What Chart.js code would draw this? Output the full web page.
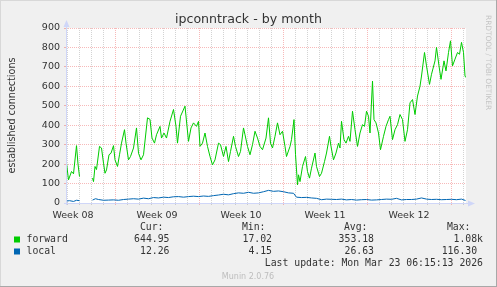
<!DOCTYPE html>
<html>
<head>
<meta charset="utf-8">
<script src="https://cdn.jsdelivr.net/npm/chart.js@4.4.1/dist/chart.umd.min.js"></script>
<style>
  html, body { margin: 0; padding: 0; background: #f0f0f0; }
  canvas { display: block; }
</style>
</head>
<body>
<canvas id="myChart" width="497" height="287"></canvas>
<script>
// hours counted from the start of week 08 (Monday 00:00)
var fwdHours = [71, 75, 81, 85, 91, 94, 97, 110, 123, 125,
  128, 131, 137, 141, 145, 148, 151, 156, 160, 165,
  168, 173, 177, 181, 187, 190, 195, 199, 205, 211,
  215, 220, 225, 233, 238, 242, 247, 251, 258, 261,
  266, 271, 278, 285, 290, 293, 299, 308, 315, 320,
  325, 331, 335, 338, 343, 348, 353, 358, 363, 368,
  375, 379, 385, 390, 395, 399, 405, 409, 415, 419,
  425, 428, 433, 438, 443, 448, 453, 458, 463, 470,
  475, 479, 483, 488, 493, 498, 503, 508, 511, 518,
  521, 526, 529, 533, 535, 538, 543, 549, 553, 557,
  561, 568, 571, 577, 581, 587, 591, 597, 600, 605,
  610, 615, 618, 621, 626, 630, 635, 638, 643, 648,
  653, 658, 663, 667, 671, 675, 678, 683, 686, 690,
  695, 699, 705, 710, 715, 718, 723, 728, 733, 738,
  743, 748, 753, 758, 763, 768, 773, 778, 781, 787,
  791, 797, 801, 808, 811, 816, 820, 826, 830, 835,
  839, 843, 848, 853, 857, 861, 865, 868, 870];
var fwdValues = [205, 119, 162, 150, 295, 200, 136, null, 128, 110,
  188, 172, 291, 283, 205, 153, 170, 248, 256, 295,
  222, 188, 248, 308, 377, 308, 222, 239, 283, 386,
  256, 222, 248, 438, 430, 334, 308, 351, 394, 334,
  360, 334, 420, 481, 394, 308, 446, 498, 317, 386,
  412, 394, 420, 291, 308, 360, 291, 239, 196, 222,
  308, 300, 239, 291, 213, 265, 343, 291, 239, 265,
  386, 351, 291, 248, 300, 369, 334, 291, 274, 334,
  438, 308, 283, 343, 412, 351, 369, 291, 239, 291,
  326, 429, 250, 93, 145, 110, 188, 239, 162, 128,
  179, 257, 188, 136, 153, 213, 257, 343, 291, 222,
  257, 308, 283, 420, 326, 308, 343, 317, 472, 377,
  291, 360, 403, 394, 472, 446, 360, 627, 429, 412,
  360, 274, 343, 394, 429, 446, 326, 377, 403, 455,
  429, 317, 377, 515, 532, 455, 550, 601, 653, 774,
  705, 610, 662, 731, 800, 705, 636, 731, 679, 774,
  834, 705, 740, 774, 765, 826, 774, 653, 645];

var localHours = [71, 77, 85, 91, 97, 110, 123, 129, 135, 145,
  155, 165, 175, 185, 195, 205, 215, 225, 235, 245,
  255, 265, 275, 285, 295, 305, 315, 325, 335, 345,
  355, 365, 375, 385, 395, 405, 415, 425, 435, 445,
  455, 465, 475, 485, 495, 505, 515, 525, 531, 541,
  551, 561, 571, 581, 591, 601, 611, 621, 631, 641,
  651, 661, 671, 681, 691, 701, 711, 721, 731, 741,
  751, 761, 771, 781, 791, 801, 811, 821, 831, 841,
  851, 861, 869];
var localValues = [10, 12, 8, 14, 12, null, 15, 22, 18, 14,
  15, 16, 14, 18, 20, 22, 20, 25, 22, 28,
  26, 30, 28, 32, 33, 30, 33, 35, 33, 36,
  34, 38, 41, 45, 42, 48, 52, 50, 55, 50,
  52, 58, 65, 60, 62, 58, 52, 50, 30, 28,
  29, 26, 24, 17, 20, 19, 18, 20, 16, 18,
  15, 17, 18, 15, 16, 18, 20, 19, 24, 16,
  18, 18, 20, 26, 20, 18, 19, 17, 18, 19,
  17, 20, 13];

var weekLabels = ['Week 08', 'Week 09', 'Week 10', 'Week 11', 'Week 12'];

var seriesNames = ['forward', 'local'];
var seriesColors = ['#00cc00', '#0066b3'];
var curText = ['644.95', '12.26'];
var minText = ['17.02', '4.15'];
var avgText = ['353.18', '26.63'];
var maxText = ['1.08k', '116.30 '];

var axisFont = 'DejaVu Sans';
var monoFont = 'DejaVu Sans Mono';

function toPoints(hours, values) {
  return hours.map((h, i) => ({x: h, y: values[i]}));
}

function gridColorX(ctx) {
  let v = ctx.tick ? ctx.tick.value : 0;
  if (v % 168 === 0) return 'rgba(235,70,70,0.38)';
  if (v % 24 === 0) return 'rgba(140,140,140,0.38)';
  return 'rgba(0,0,0,0)';
}

function gridColorY(ctx) {
  let v = ctx.tick ? ctx.tick.value : 0;
  if (v === 0) return 'rgba(0,0,0,0)';
  if (v % 100 === 0) return 'rgba(235,70,70,0.38)';
  return 'rgba(140,140,140,0.38)';
}

const muninPlugin = {
  id: 'munin',
  beforeDraw(chart) {
    const ctx = chart.ctx, a = chart.chartArea;
    ctx.save();
    ctx.fillStyle = '#f0f0f0';
    ctx.fillRect(0, 0, chart.width, chart.height);
    ctx.fillStyle = '#ffffff';
    ctx.fillRect(a.left, a.top, a.right - a.left, a.bottom - a.top);
    ctx.restore();
  },
  afterDraw(chart) {
    const ctx = chart.ctx, a = chart.chartArea;
    ctx.save();

    // axes with arrows
    ctx.strokeStyle = '#cfd6f8';
    ctx.fillStyle = '#cfd6f8';
    ctx.lineWidth = 1;
    ctx.beginPath();
    ctx.moveTo(a.left + 0.5, a.bottom + 2);
    ctx.lineTo(a.left + 0.5, a.top - 2);
    ctx.moveTo(a.left - 2, a.bottom + 0.5);
    ctx.lineTo(a.right + 3, a.bottom + 0.5);
    ctx.stroke();
    ctx.beginPath();
    ctx.moveTo(a.left + 0.5, a.top - 8);
    ctx.lineTo(a.left - 2.5, a.top - 1);
    ctx.lineTo(a.left + 3.5, a.top - 1);
    ctx.closePath();
    ctx.fill();
    ctx.beginPath();
    ctx.moveTo(a.right + 9, a.bottom + 0.5);
    ctx.lineTo(a.right + 2, a.bottom - 2.5);
    ctx.lineTo(a.right + 2, a.bottom + 3.5);
    ctx.closePath();
    ctx.fill();

    // title
    ctx.fillStyle = '#333333';
    ctx.font = '12.6px "' + axisFont + '"';
    ctx.textAlign = 'center';
    ctx.textBaseline = 'alphabetic';
    ctx.fillText('ipconntrack - by month', 248.5, 23);

    // vertical axis title
    ctx.save();
    ctx.translate(12.5, (a.top + a.bottom) / 2);
    ctx.rotate(-Math.PI / 2);
    ctx.font = '9.6px "' + axisFont + '"';
    ctx.textBaseline = 'middle';
    ctx.fillText('established connections', 0, 0);
    ctx.restore();

    // rrdtool watermark on the right
    ctx.save();
    ctx.translate(488, 15);
    ctx.rotate(Math.PI / 2);
    ctx.font = '7.4px "' + axisFont + '"';
    ctx.fillStyle = '#c4c4c4';
    ctx.textAlign = 'left';
    ctx.textBaseline = 'middle';
    ctx.fillText('RRDTOOL / TOBI OETIKER', 0, 0);
    ctx.restore();

    // legend block
    ctx.font = '9.8px "' + monoFont + '"';
    ctx.textBaseline = 'middle';
    ctx.fillStyle = '#333333';
    ctx.textAlign = 'right';
    ctx.fillText('Cur:', 163.5, 227.5);
    ctx.fillText('Min:', 265.5, 227.5);
    ctx.fillText('Avg:', 367.5, 227.5);
    ctx.fillText('Max:', 470.5, 227.5);
    var rows = [239.5, 251.5];
    for (let i = 0; i < seriesNames.length; i++) {
      let y = rows[i];
      ctx.fillStyle = seriesColors[i];
      ctx.fillRect(14, y - 3, 6, 6);
      ctx.fillStyle = '#333333';
      ctx.textAlign = 'left';
      ctx.fillText(seriesNames[i], 26.5, y);
      ctx.textAlign = 'right';
      ctx.fillText(curText[i], 169.5, y);
      ctx.fillText(minText[i], 272, y);
      ctx.fillText(avgText[i], 374, y);
      ctx.fillText(maxText[i], 483, y);
    }
    ctx.fillText('Last update: Mon Mar 23 06:15:13 2026', 483, 263.5);

    ctx.font = '8px "' + axisFont + '"';
    ctx.fillStyle = '#bdbdbd';
    ctx.textAlign = 'center';
    ctx.fillText('Munin 2.0.76', 248, 276.5);

    // frame
    ctx.fillStyle = '#d8d8d8';
    ctx.fillRect(0, 0, chart.width, 1);
    ctx.fillRect(0, 0, 1, chart.height);
    ctx.fillStyle = '#a8a8a8';
    ctx.fillRect(0, chart.height - 1, chart.width, 1);
    ctx.fillRect(chart.width - 1, 0, 1, chart.height);
    ctx.restore();
  }
};

new Chart('myChart', {
  type: 'line',
  data: {
    datasets: [{
      label: seriesNames[0],
      data: toPoints(fwdHours, fwdValues),
      borderColor: seriesColors[0],
      borderWidth: 1,
      pointRadius: 0,
      tension: 0,
      spanGaps: false
    }, {
      label: seriesNames[1],
      data: toPoints(localHours, localValues),
      borderColor: seriesColors[1],
      borderWidth: 1,
      pointRadius: 0,
      tension: 0,
      spanGaps: false
    }]
  },
  options: {
    responsive: false,
    animation: false,
    devicePixelRatio: 1,
    layout: { padding: { left: 0, top: 28, right: 31, bottom: 0 } },
    plugins: {
      legend: { display: false },
      tooltip: { enabled: false }
    },
    scales: {
      x: {
        type: 'linear',
        min: 70,
        max: 870,
        afterFit: (scale) => { scale.height = 84; },
        border: { display: false, dash: [1, 1] },
        grid: { color: gridColorX, tickLength: 2, tickBorderDash: [] },
        ticks: {
          stepSize: 12,
          includeBounds: false,
          autoSkip: false,
          maxRotation: 0,
          padding: 5,
          color: '#333333',
          font: { family: axisFont, size: 9.5 },
          callback: (v) => ((v - 84) % 168 === 0 ? weekLabels[(v - 84) / 168] : '')
        }
      },
      y: {
        min: 0,
        max: 900,
        afterFit: (scale) => { scale.width = 66; },
        border: { display: false, dash: [1, 1] },
        grid: { color: gridColorY, tickLength: 2, tickBorderDash: [] },
        ticks: {
          stepSize: 50,
          padding: 4,
          color: '#333333',
          font: { family: axisFont, size: 9.5 },
          callback: (v) => (v % 100 === 0 ? String(v) : '')
        }
      }
    }
  },
  plugins: [muninPlugin]
});
</script>
</body>
</html>
